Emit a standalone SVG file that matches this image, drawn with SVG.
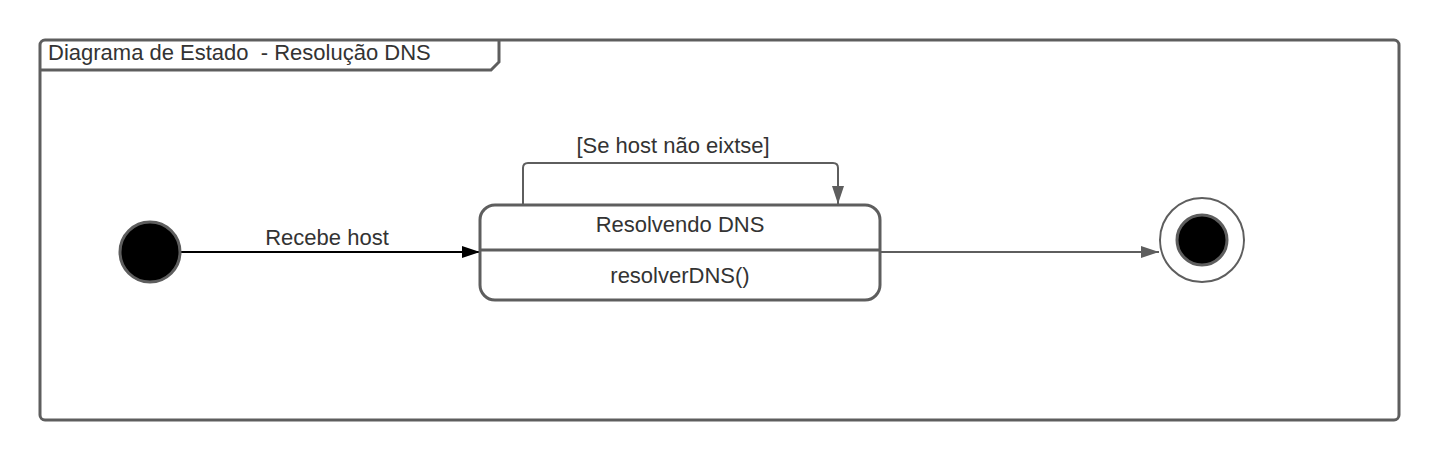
<svg xmlns="http://www.w3.org/2000/svg" width="1440" height="460" viewBox="0 0 1440 460">
<style>
text{font-family:"Liberation Sans",Arial,sans-serif;font-size:22px;fill:#333333;white-space:pre}
.ln{stroke:#5e5e5e;stroke-width:3;fill:none}
</style>
<defs>
<marker id="ab" markerWidth="18" markerHeight="12" refX="18" refY="6" orient="auto" markerUnits="userSpaceOnUse"><path d="M0,0 L18,6 L0,12 Z" fill="#000"/></marker>
<marker id="ag" markerWidth="18" markerHeight="12" refX="18" refY="6" orient="auto" markerUnits="userSpaceOnUse"><path d="M0,0 L18,6 L0,12 Z" fill="#5e5e5e"/></marker>
</defs>
<rect width="1440" height="460" fill="#fff"/>
<g id="frame">
<rect x="40" y="40" width="1359" height="380" rx="5" class="ln"/>
<path d="M40,70 L491,70 L499,62 L499,40" class="ln"/>
<text x="48" y="60" xml:space="preserve">Diagrama de Estado  - Resolução DNS</text>
</g>
<g id="connectors">
<line x1="181" y1="252" x2="480" y2="252" stroke="#000" stroke-width="2" marker-end="url(#ab)"/>
<text x="327" y="245" text-anchor="middle">Recebe host</text>
<path d="M523,204 L523,168 Q523,163 528,163 L833,163 Q838,163 838,168 L838,204" stroke="#5e5e5e" stroke-width="2" fill="none" marker-end="url(#ag)"/>
<text x="673" y="153" text-anchor="middle">[Se host não eixtse]</text>
<line x1="880" y1="252" x2="1159" y2="252" stroke="#5e5e5e" stroke-width="2" marker-end="url(#ag)"/>
</g>
<g id="initial">
<circle cx="150" cy="252" r="30" fill="#000" stroke="#5e5e5e" stroke-width="3"/>
</g>
<g id="resolvendo">
<rect x="480" y="205" width="400" height="95" rx="15" fill="#fff" class="ln"/>
<line x1="480" y1="250" x2="880" y2="250" stroke="#5e5e5e" stroke-width="3"/>
<text x="680" y="232" text-anchor="middle">Resolvendo DNS</text>
<text x="680" y="283" text-anchor="middle">resolverDNS()</text>
</g>
<g id="final">
<circle cx="1202" cy="240" r="42" fill="#fff" stroke="#5e5e5e" stroke-width="2"/>
<circle cx="1202" cy="240" r="25" fill="#000" stroke="#5e5e5e" stroke-width="3"/>
</g>
</svg>
